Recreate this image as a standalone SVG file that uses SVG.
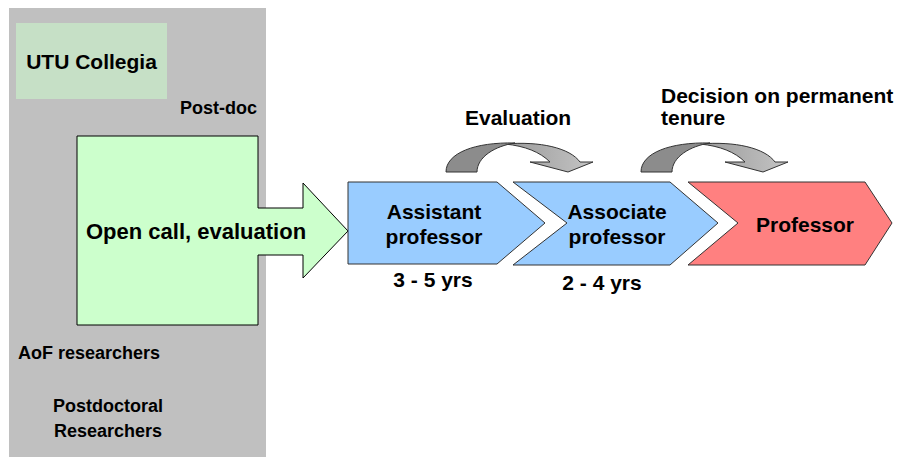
<svg xmlns="http://www.w3.org/2000/svg" width="898" height="457" viewBox="0 0 898 457">
<style>
text{font-family:"Liberation Sans",Arial,sans-serif;font-weight:bold;fill:#000}
.t21{font-size:21px}
.t22{font-size:22px}
.t18{font-size:18px}
.mid{text-anchor:middle}
.chev{stroke:#333;stroke-width:1}
.curve{stroke:#333;stroke-width:1;stroke-linejoin:round}
</style>
<defs>
<linearGradient id="cg" x1="0" y1="0" x2="1" y2="0">
<stop offset="0" stop-color="#9a9a9a"/>
<stop offset="1" stop-color="#c4c4c4"/>
</linearGradient>
</defs>
<rect width="898" height="457" fill="#fff"/>
<g id="background">
<rect x="9" y="8" width="257" height="449" fill="#c0c0c0"/>
</g>
<g id="utu-collegia">
<rect x="16" y="23" width="151" height="76" fill="#c6e0c6"/>
<text class="t21 mid" x="91.5" y="69">UTU Collegia</text>
</g>
<g id="labels-left">
<text class="t18" x="180" y="114">Post-doc</text>
<text class="t18" x="18" y="359">AoF researchers</text>
<text class="t18" x="53" y="412">Postdoctoral</text>
<text class="t18" x="54" y="437">Researchers</text>
</g>
<g id="open-call">
<path d="M77,136 H258 V208 H303 V183 L348,231 L303,278 V255 H258 V325 H77 Z" fill="#ccffcc" stroke="#000" stroke-width="1"/>
<text class="t22" x="86" y="239">Open call, evaluation</text>
</g>
<g id="assistant">
<path class="chev" d="M348,182 H497 L545,223 L497,264 H348 Z" fill="#99ccff"/>
<text class="t21 mid" x="434" y="219">Assistant</text>
<text class="t21 mid" x="434" y="244">professor</text>
<text class="t21 mid" x="433" y="287">3 - 5 yrs</text>
</g>
<g id="associate">
<path class="chev" d="M513,182 H670 L718,223 L670,265 H513 L567,223 Z" fill="#99ccff"/>
<text class="t21 mid" x="617" y="219">Associate</text>
<text class="t21 mid" x="617" y="244">professor</text>
<text class="t21 mid" x="602" y="290">2 - 4 yrs</text>
</g>
<g id="professor">
<path class="chev" d="M688,182 H865 L892,223 L865,265 H688 L738,223 Z" fill="#ff8080"/>
<text class="t21 mid" x="805" y="232">Professor</text>
</g>
<g id="connectors">
<g id="eval-arrow">
<path class="curve" fill="url(#cg)" d="M505,144 C540,141 570,148 580,162 L593,162 L568,172 L530,162 L550,162 C540,152 525,146 505,144 Z"/>
<path class="curve" fill="#8c8c8c" d="M446,172 C446,153 475,142 515,143 C495,146 477,157 477,172 Z"/>
</g>
<g id="tenure-arrow" transform="translate(195,0)">
<path class="curve" fill="url(#cg)" d="M505,144 C540,141 570,148 580,162 L593,162 L568,172 L530,162 L550,162 C540,152 525,146 505,144 Z"/>
<path class="curve" fill="#8c8c8c" d="M446,172 C446,153 475,142 515,143 C495,146 477,157 477,172 Z"/>
</g>
</g>
<g id="top-labels">
<text class="t21" x="465" y="125">Evaluation</text>
<text class="t21" x="661" y="103">Decision on permanent</text>
<text class="t21" x="661" y="125">tenure</text>
</g>
</svg>
